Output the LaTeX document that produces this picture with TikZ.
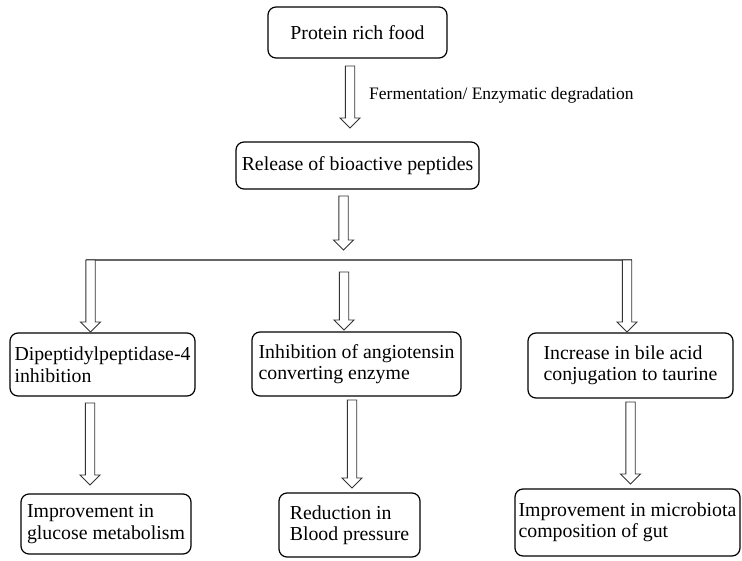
\documentclass[tikz,border=0pt]{standalone}
\usepackage{fontspec}
\setmainfont{Liberation Serif}
\usetikzlibrary{calc}
\tikzset{
  box/.style={draw=black, line width=1.2pt, rounded corners=8pt, inner sep=0pt, align=left,
    font=\fontsize{19.8}{21.5}\selectfont},
  blockarr/.style={draw=black!80, line width=0.9pt, fill=white, line join=miter},
  hline/.style={draw=black!60, line width=2pt},
}
\newcommand\blockarrow[2]{%
  \draw[blockarr] let \p1=(#1), \p2=(#2) in
    (\x1-4.7pt,\y1) -- (\x1-4.7pt,\y2+10pt) -- (\x1-10pt,\y2+10pt) -- (\x1,\y2)
    -- (\x1+10pt,\y2+10pt) -- (\x1+4.7pt,\y2+10pt) -- (\x1+4.7pt,\y1) -- cycle;}
\begin{document}
\begin{tikzpicture}[x=1pt,y=-1pt]
\useasboundingbox (0,0) rectangle (742,560);
% boxes
\node[box, minimum width=179pt, minimum height=51pt] (food) at (357.5,32.5) {Protein rich food};
\node[box, minimum width=243pt, minimum height=47pt] (release) at (357.5,165.5) {Release of bioactive peptides};
\node[box, minimum width=185pt, minimum height=63pt] (dpp) at (102.5,364.5) {Dipeptidylpeptidase-4\\inhibition};
\node[box, minimum width=209pt, minimum height=64pt] (ace) at (356.5,364) {Inhibition of angiotensin\\converting enzyme};
\node[box, minimum width=205pt, minimum height=65pt] (bile) at (630.5,365.5) {Increase in bile acid\\conjugation to taurine};
\node[box, minimum width=170pt, minimum height=60pt] (glucose) at (106,524) {Improvement in\\glucose metabolism};
\node[box, minimum width=141pt, minimum height=64pt] (bp) at (349.5,525) {Reduction in\\Blood pressure};
\node[box, minimum width=225pt, minimum height=67pt] (gut) at (627.5,522.5) {Improvement in microbiota\\composition of gut};
% label
\node[anchor=west, inner sep=0pt, font=\fontsize{17.5}{20}\selectfont] (ferm) at (369,95) {Fermentation/ Enzymatic degradation};
% connector coordinates
\coordinate (a1s) at (350,66);  \coordinate (a1e) at (350,128);
\coordinate (a2s) at (343.5,196); \coordinate (a2e) at (343.5,250);
\coordinate (hl) at (86,260); \coordinate (hr) at (632,260);
\coordinate (a3s) at (90.5,260); \coordinate (a3e) at (90.5,332);
\coordinate (a4s) at (344,272); \coordinate (a4e) at (344,330);
\coordinate (a5s) at (627,260); \coordinate (a5e) at (627,332);
\coordinate (a6s) at (90,403); \coordinate (a6e) at (90,485);
\coordinate (a7s) at (352,400); \coordinate (a7e) at (352,488);
\coordinate (a8s) at (630.5,402); \coordinate (a8e) at (630.5,484);
% horizontal bar
\draw[hline] (hl) -- (hr);
% arrows
\blockarrow{a1s}{a1e}
\blockarrow{a2s}{a2e}
\blockarrow{a3s}{a3e}
\blockarrow{a4s}{a4e}
\blockarrow{a5s}{a5e}
\blockarrow{a6s}{a6e}
\blockarrow{a7s}{a7e}
\blockarrow{a8s}{a8e}
\end{tikzpicture}
\end{document}
